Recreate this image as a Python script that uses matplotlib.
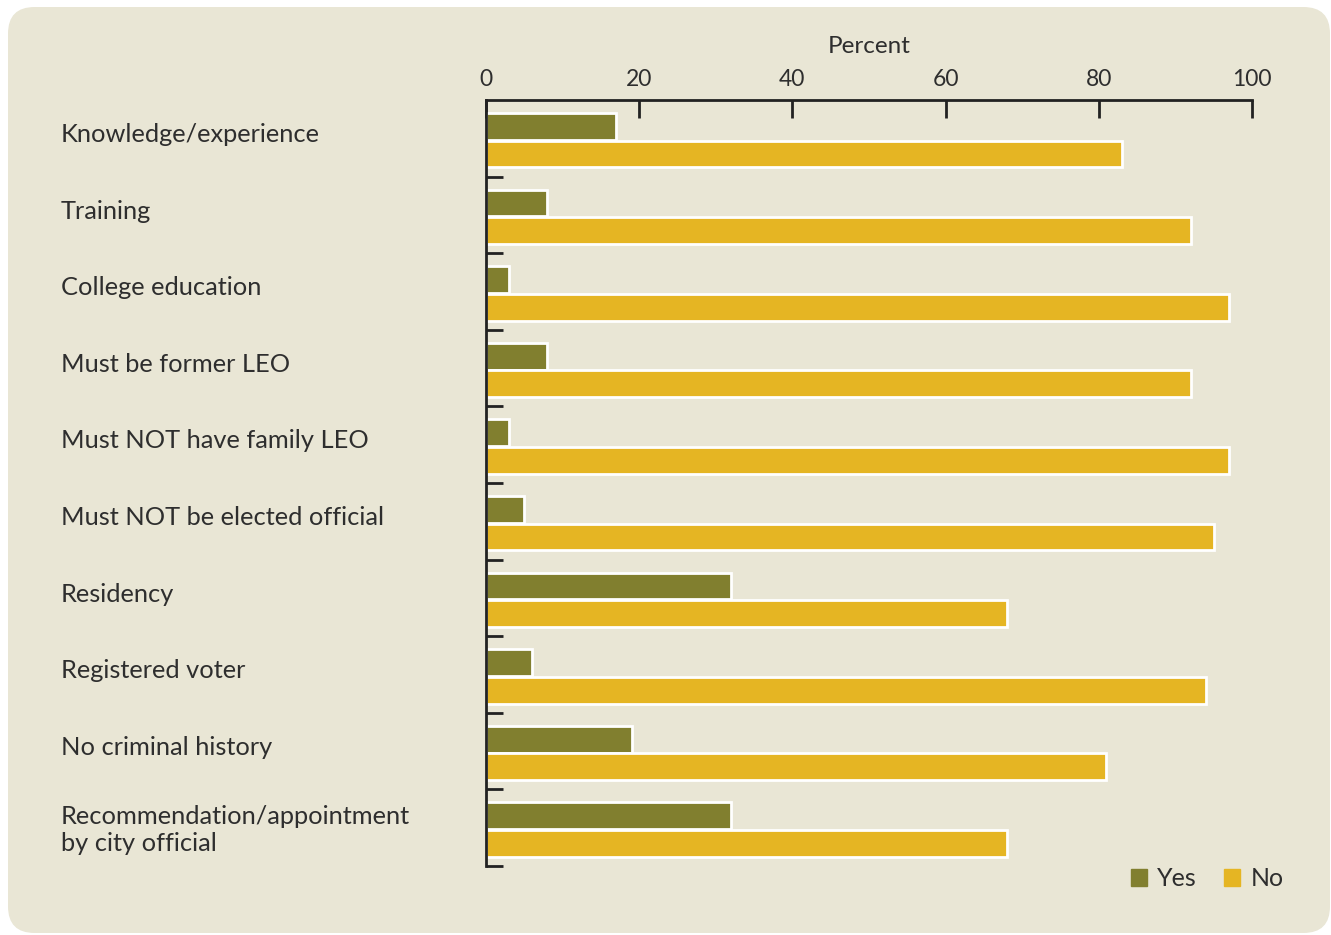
import matplotlib
matplotlib.use("Agg")
import matplotlib.pyplot as plt
import matplotlib.transforms as mtransforms
from matplotlib.patches import FancyBboxPatch, Rectangle
import numpy as np

categories = ["Knowledge/experience", "Training", "College education",
              "Must be former LEO", "Must NOT have family LEO",
              "Must NOT be elected official", "Residency", "Registered voter",
              "No criminal history", "Recommendation/appointment\nby city official"]
yes_vals = [17, 8, 3, 8, 3, 5, 32, 6, 19, 32]
no_vals = [83, 92, 97, 92, 97, 95, 68, 94, 81, 68]
xticks = [0, 20, 40, 60, 80, 100]
series_names = ["Yes", "No"]

YES_C = "#817F2F"
NO_C = "#E5B523"
BG = "#E9E6D5"
TXT = "#2e2e2e"
FONT = "Lato"
FW = "normal"

plt.rcParams['font.family'] = [FONT, 'DejaVu Sans']

fig = plt.figure(figsize=(13.31, 9.35), dpi=100)
fig.patch.set_facecolor("white")
W, H = 1331, 935
bg = FancyBboxPatch((8 / W, 2 / H), 1322 / W, 926 / H,
                    boxstyle="round,pad=0,rounding_size=0.02",
                    transform=fig.transFigure, facecolor=BG, edgecolor="none",
                    mutation_aspect=W / H, zorder=-10)
fig.patches.append(bg)

ax = fig.add_axes([486 / W, (935 - 866) / H, 766 / W, 766 / H])
ax.set_facecolor("none")
ax.set_zorder(5)

n = len(categories)
idx = np.arange(n)
bh = 0.35
ax.barh(idx + 0.345, yes_vals, height=bh, color=YES_C, edgecolor="white",
        linewidth=2, zorder=2)
ax.barh(idx + 0.705, no_vals, height=bh, color=NO_C, edgecolor="white",
        linewidth=2, zorder=2)

ax.set_xlim(0, 100)
ax.set_ylim(n, 0)

ax.xaxis.tick_top()
ax.xaxis.set_label_position("top")
ax.set_xticks(xticks)
ax.set_xticklabels([str(t) for t in xticks], fontsize=16.5, color=TXT,
                   fontweight=FW)
ax.tick_params(axis="x", direction="in", length=13, width=2, color="#222222",
               pad=7)
ax.set_xlabel("Percent", fontsize=17.5, color=TXT, labelpad=12, fontweight=FW)

ax.set_yticks(np.arange(1, n + 1))
ax.set_yticklabels([])
ax.tick_params(axis="y", direction="in", length=12, width=2, color="#222222")

for s in ["right", "bottom"]:
    ax.spines[s].set_visible(False)
for s in ["top", "left"]:
    ax.spines[s].set_linewidth(2)
    ax.spines[s].set_color("#222222")
    ax.spines[s].set_zorder(3)

lab_tr = mtransforms.blended_transform_factory(fig.transFigure, ax.transData)
for i, lab in enumerate(categories):
    y = i + (0.53 if "\n" in lab else 0.45)
    ax.text(61 / W, y, lab, transform=lab_tr, fontsize=18.3, color=TXT,
            va="center", ha="left", linespacing=1.18, clip_on=False,
            fontweight=FW)

# legend
handles = [Rectangle((0, 0), 1, 1, color=YES_C), Rectangle((0, 0), 1, 1, color=NO_C)]
fig.legend(handles, series_names, loc="center right",
           bbox_to_anchor=(1306 / W, 1 - 879 / H), ncol=2, frameon=False,
           handlelength=0.65, handleheight=0.65, handletextpad=0.4,
           columnspacing=1.1, labelcolor=TXT, prop={"weight": FW, "size": 18})

fig.savefig("out.png", dpi=100, facecolor="white")
